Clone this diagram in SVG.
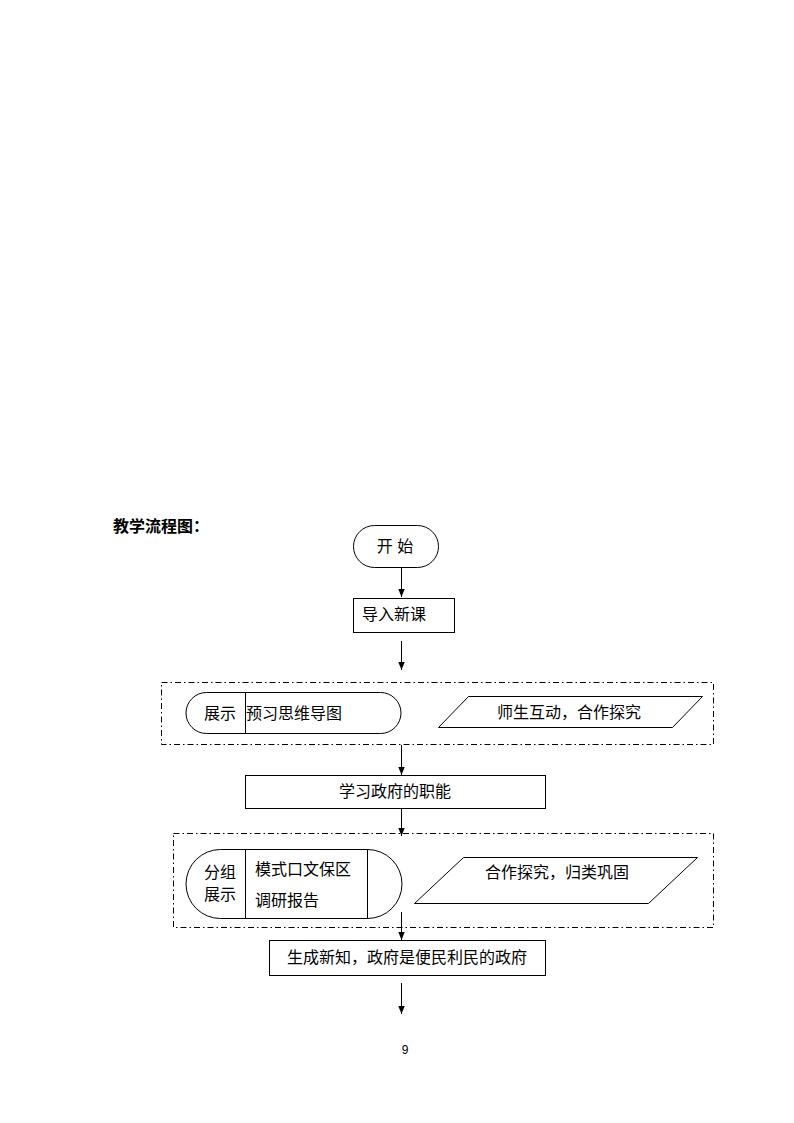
<svg xmlns="http://www.w3.org/2000/svg" width="794" height="1123" viewBox="0 0 794 1123">
  <style>
    .shape { fill: #fff; stroke: #000; stroke-width: 1; }
    .line { fill: none; stroke: #000; stroke-width: 1; }
    .group { fill: none; stroke: #000; stroke-width: 1; stroke-dasharray: 6 3 1.5 3; }
    .t { font-family: "Liberation Sans", "Noto Sans CJK SC", sans-serif; font-size: 16px; fill: #000; }
    .mid { text-anchor: middle; }
    .title { font-family: "Liberation Sans", "Noto Sans CJK SC", sans-serif; font-size: 16px; font-weight: bold; fill: #000; }
  </style>
  <defs>
    <marker id="arrow" viewBox="0 0 8 8" markerWidth="8" markerHeight="8" refX="8" refY="4" orient="auto" markerUnits="userSpaceOnUse">
      <path d="M0,0.8 L8,4 L0,7.2 Z" fill="#000"/>
    </marker>
  </defs>
  <rect width="794" height="1123" fill="#fff"/>

  <text class="title" x="113" y="532">教学流程图：</text>

  <!-- dash-dot grouping frames -->
  <g id="frames">
    <rect class="group" x="161.5" y="682.5" width="552" height="62"/>
    <rect class="group" x="173.5" y="833.5" width="540" height="94"/>
  </g>

  <g id="connectors">
    <line class="line" x1="401.5" y1="567" x2="401.5" y2="597" marker-end="url(#arrow)"/>
    <line class="line" x1="401.5" y1="641" x2="401.5" y2="670" marker-end="url(#arrow)"/>
    <line class="line" x1="401.5" y1="745" x2="401.5" y2="775" marker-end="url(#arrow)"/>
    <line class="line" x1="401.5" y1="808" x2="401.5" y2="836" marker-end="url(#arrow)"/>
    <line class="line" x1="401.5" y1="912" x2="401.5" y2="940" marker-end="url(#arrow)"/>
    <line class="line" x1="401.5" y1="983" x2="401.5" y2="1014" marker-end="url(#arrow)"/>
  </g>

  <g id="start">
    <rect class="shape" x="353.5" y="525.5" width="85" height="42" rx="21" ry="21"/>
    <text class="t mid" x="395" y="552">开 始</text>
  </g>

  <g id="intro">
    <rect class="shape" x="353.5" y="598.5" width="101" height="34"/>
    <text class="t" x="362" y="620">导入新课</text>
  </g>

  <g id="show-mindmap">
    <path class="shape" d="M206.5,692.5 H380.5 A20.5,20.5 0 0 1 380.5,733.5 H206.5 A20.5,20.5 0 0 1 206.5,692.5 Z"/>
    <line class="line" x1="245.5" y1="692.5" x2="245.5" y2="733.5"/>
    <text class="t" x="204" y="719">展示</text>
    <text class="t" x="246" y="719">预习思维导图</text>
  </g>

  <g id="interaction">
    <polygon class="shape" points="438.5,727.5 468.5,696.5 702.5,696.5 672.5,727.5"/>
    <text class="t mid" x="569" y="718">师生互动，合作探究</text>
  </g>

  <g id="functions">
    <rect class="shape" x="245.5" y="775.5" width="300" height="33"/>
    <text class="t mid" x="395" y="797">学习政府的职能</text>
  </g>

  <g id="group-report">
    <path class="shape" d="M220.5,849.5 H367.5 A34.5,34.5 0 0 1 367.5,918.5 H220.5 A34.5,34.5 0 0 1 220.5,849.5 Z"/>
    <line class="line" x1="245.5" y1="849.5" x2="245.5" y2="918.5"/>
    <line class="line" x1="367.5" y1="849.5" x2="367.5" y2="918.5"/>
    <text class="t" x="204" y="878">分组</text>
    <text class="t" x="204" y="900">展示</text>
    <text class="t" x="255" y="875">模式口文保区</text>
    <text class="t" x="255" y="906">调研报告</text>
  </g>

  <g id="classify">
    <polygon class="shape" points="414.5,903.5 463.5,857.5 697.5,857.5 648.5,903.5"/>
    <text class="t mid" x="557" y="878">合作探究，归类巩固</text>
  </g>

  <g id="conclusion">
    <rect class="shape" x="269.5" y="940.5" width="276" height="35"/>
    <text class="t mid" x="407" y="963">生成新知，政府是便民利民的政府</text>
  </g>

  <text x="405" y="1054" font-family="Liberation Sans, sans-serif" font-size="12" text-anchor="middle">9</text>
</svg>
